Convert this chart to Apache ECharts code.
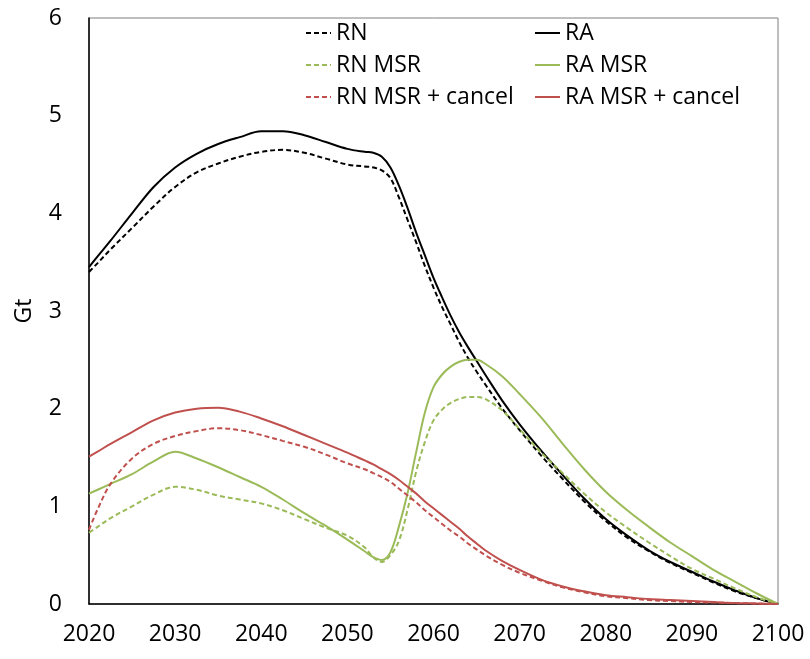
<!DOCTYPE html>
<html>
<head>
<meta charset="utf-8">
<script src="https://cdn.jsdelivr.net/npm/echarts@6/dist/echarts.min.js"></script>
<style>
  html, body { margin: 0; padding: 0; background: #fff; }
  #chart { width: 810px; height: 659px; }
</style>
</head>
<body>
<div id="chart"></div>
<script>
// Sample years shared by every scenario (denser around the 2050s turnover)
const years = [2020, 2021, 2022.5, 2025, 2027.5, 2030, 2032.5, 2035, 2037.5, 2040, 2042.5, 2045, 2047.5,
  2050, 2052, 2053, 2054, 2055, 2056, 2057, 2058, 2059, 2060, 2061, 2062, 2063, 2064, 2065, 2066,
  2068, 2070, 2072.5, 2075, 2077.5, 2080, 2082.5, 2085, 2087.5, 2090, 2092.5, 2095, 2097.5, 2100];

// Stock in Gt per scenario
const rn = [3.40, 3.49, 3.63, 3.85, 4.07, 4.27, 4.42, 4.51, 4.58, 4.63, 4.65, 4.62, 4.56,
  4.50, 4.48, 4.47, 4.44, 4.36, 4.16, 3.93, 3.70, 3.46, 3.24, 3.04, 2.86, 2.68, 2.52, 2.38, 2.25,
  2.00, 1.78, 1.52, 1.28, 1.05, 0.85, 0.68, 0.54, 0.42, 0.32, 0.22, 0.13, 0.06, 0.00];
const ra = [3.45, 3.56, 3.72, 4.00, 4.27, 4.47, 4.61, 4.71, 4.78, 4.84, 4.84, 4.80, 4.73,
  4.66, 4.63, 4.62, 4.58, 4.47, 4.28, 4.05, 3.80, 3.57, 3.34, 3.14, 2.95, 2.78, 2.63, 2.49, 2.35,
  2.08, 1.84, 1.57, 1.32, 1.08, 0.87, 0.70, 0.55, 0.43, 0.33, 0.23, 0.14, 0.06, 0.00];
const rnMsr = [0.73, 0.79, 0.88, 1.00, 1.12, 1.20, 1.17, 1.11, 1.07, 1.03, 0.96, 0.87, 0.78,
  0.70, 0.58, 0.48, 0.43, 0.50, 0.65, 0.97, 1.36, 1.66, 1.88, 1.99, 2.06, 2.10, 2.12, 2.12, 2.10,
  1.98, 1.79, 1.55, 1.34, 1.13, 0.94, 0.78, 0.63, 0.49, 0.36, 0.26, 0.16, 0.07, 0.00];
const raMsr = [1.13, 1.17, 1.23, 1.33, 1.46, 1.56, 1.49, 1.40, 1.30, 1.20, 1.07, 0.93, 0.80,
  0.66, 0.54, 0.48, 0.45, 0.53, 0.80, 1.14, 1.56, 1.96, 2.22, 2.35, 2.43, 2.48, 2.50, 2.50, 2.46,
  2.33, 2.15, 1.91, 1.64, 1.38, 1.15, 0.96, 0.79, 0.63, 0.49, 0.35, 0.23, 0.11, 0.00];
const rnMsrCancel = [0.76, 0.97, 1.23, 1.49, 1.64, 1.72, 1.77, 1.80, 1.78, 1.73, 1.67, 1.61, 1.53,
  1.44, 1.38, 1.34, 1.30, 1.25, 1.18, 1.11, 1.04, 0.96, 0.89, 0.82, 0.75, 0.69, 0.62, 0.56, 0.50,
  0.40, 0.32, 0.24, 0.17, 0.12, 0.08, 0.06, 0.04, 0.03, 0.02, 0.015, 0.01, 0.005, 0.00];
const raMsrCancel = [1.51, 1.56, 1.64, 1.76, 1.88, 1.96, 2.00, 2.01, 1.97, 1.90, 1.82, 1.73, 1.64,
  1.55, 1.47, 1.43, 1.38, 1.33, 1.27, 1.20, 1.13, 1.05, 0.98, 0.91, 0.84, 0.77, 0.69, 0.62, 0.55,
  0.44, 0.35, 0.25, 0.18, 0.13, 0.09, 0.07, 0.05, 0.04, 0.03, 0.02, 0.01, 0.005, 0.00];

const xTicks = { min: 2020, max: 2100, step: 10 };
const yTicks = { min: 0, max: 6, step: 1 };

const BLACK = '#000000', GREEN = '#9BBB59', RED = '#C0504D';
const FONT = '"Open Sans", "DejaVu Sans", sans-serif';

function pairs(vals) { return years.map((y, i) => [y, vals[i]]); }

function line(name, vals, color, dashed) {
  return {
    name, type: 'line', data: pairs(vals), smooth: 0.35, symbol: 'none',
    lineStyle: { color, width: 2, type: dashed ? [5, 3] : 'solid' },
    itemStyle: { color }
  };
}

const legendBase = {
  orient: 'vertical', top: 20, padding: 0, itemGap: 6,
  itemWidth: 25, itemHeight: 14,
  itemStyle: { opacity: 0 },
  textStyle: { fontFamily: FONT, fontSize: 23, color: '#000', lineHeight: 26 }
};

const chart = echarts.init(document.getElementById('chart'), null, { renderer: 'canvas' });
chart.setOption({
  animation: false,
  backgroundColor: '#fff',
  grid: {
    left: 89, right: 32, top: 18, bottom: 55, outerBoundsMode: 'none',
    show: true, borderColor: '#7f7f7f', borderWidth: 1
  },
  legend: [
    Object.assign({ left: 305, data: ['RN', 'RN MSR', 'RN MSR + cancel'] }, legendBase),
    Object.assign({ left: 534, data: ['RA', 'RA MSR', 'RA MSR + cancel'] }, legendBase)
  ],
  xAxis: {
    type: 'value', min: xTicks.min, max: xTicks.max, interval: xTicks.step,
    axisLine: { lineStyle: { color: '#000', width: 1.5 } },
    axisTick: { show: false }, splitLine: { show: false },
    axisLabel: { fontFamily: FONT, fontSize: 23, color: '#000', margin: 19, formatter: v => String(v) }
  },
  yAxis: {
    type: 'value', min: yTicks.min, max: yTicks.max, interval: yTicks.step,
    name: 'Gt', nameLocation: 'middle', nameGap: 53, nameRotate: 90,
    nameTextStyle: { fontFamily: FONT, fontSize: 23, color: '#000' },
    axisLine: { show: true, lineStyle: { color: '#000', width: 1.5 } },
    axisTick: { show: false }, splitLine: { show: false },
    axisLabel: { fontFamily: FONT, fontSize: 23, color: '#000', margin: 27 }
  },
  series: [
    line('RN', rn, BLACK, true),
    line('RA', ra, BLACK, false),
    line('RN MSR', rnMsr, GREEN, true),
    line('RA MSR', raMsr, GREEN, false),
    line('RN MSR + cancel', rnMsrCancel, RED, true),
    line('RA MSR + cancel', raMsrCancel, RED, false)
  ]
});
</script>
</body>
</html>
